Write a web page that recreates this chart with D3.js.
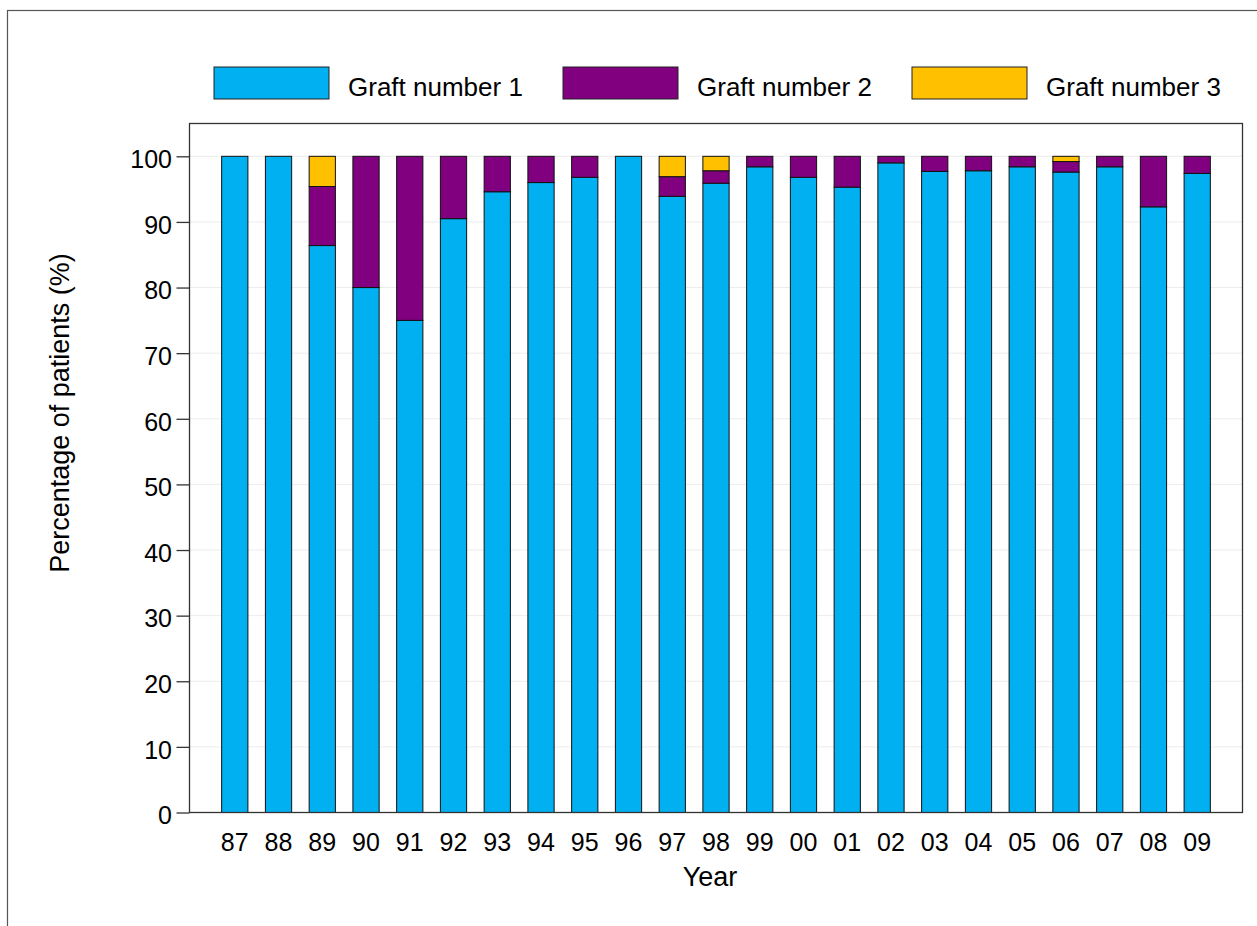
<!DOCTYPE html>
<html>
<head>
<meta charset="utf-8">
<script src="https://cdn.jsdelivr.net/npm/d3@7/dist/d3.min.js"></script>
<style>
  html, body { margin: 0; padding: 0; background: #fff; }
  svg { display: block; font-family: "Liberation Sans", Arial, sans-serif; }
</style>
</head>
<body>
<svg id="chart" width="1257" height="926"></svg>
<script>
const years = ["87","88","89","90","91","92","93","94","95","96","97","98","99","00","01","02","03","04","05","06","07","08","09"];
const graft1 = [100,100,86.4,80,75,90.5,94.6,96,96.8,100,93.9,95.9,98.4,96.8,95.3,99,97.7,97.8,98.4,97.6,98.4,92.3,97.4];
const graft2 = [0,0,9.0,20,25,9.5,5.4,4,3.2,0,3.0,1.9,1.6,3.2,4.7,1.0,2.3,2.2,1.6,1.6,1.6,7.7,2.6];
const graft3 = [0,0,4.6,0,0,0,0,0,0,0,3.1,2.2,0,0,0,0,0,0,0,0.8,0,0,0];
const seriesNames = ["Graft number 1","Graft number 2","Graft number 3"];
const seriesColors = ["#00B0F0","#800080","#FFC000"];
const yTicks = [0,10,20,30,40,50,60,70,80,90,100];

const svg = d3.select("#chart");
const L = 189.5, R = 1242.5, T = 123.5, B = 812.5;

// outer frame
svg.append("rect").attr("x",7.5).attr("y",10.5).attr("width",1400).attr("height",1100)
  .attr("fill","none").attr("stroke","#555").attr("stroke-width",1.2);

const rows = years.map((y,i)=>({year:y, s0:graft1[i], s1:graft2[i], s2:graft3[i]}));
const stack = d3.stack().keys(["s0","s1","s2"])(rows);

const x = d3.scaleBand().domain(years).range([L,R]).paddingInner(0.4).paddingOuter(0.735);
const y = d3.scaleLinear().domain([0,105]).range([B,T]);

// gridlines
svg.append("g").selectAll("line").data(yTicks).join("line")
  .attr("x1",L).attr("x2",R).attr("y1",d=>y(d)).attr("y2",d=>y(d))
  .attr("stroke","#ececec").attr("stroke-width",1);

// bars
stack.forEach((layer,k)=>{
  svg.append("g").selectAll("rect").data(layer.filter(d=>d[1]-d[0]>0)).join("rect")
    .attr("x",d=>x(d.data.year)).attr("width",x.bandwidth())
    .attr("y",d=>y(d[1])).attr("height",d=>y(d[0])-y(d[1]))
    .attr("fill",seriesColors[k]).attr("stroke","#111").attr("stroke-width",1);
});

// plot frame
svg.append("rect").attr("x",L).attr("y",T).attr("width",R-L).attr("height",B-T)
  .attr("fill","none").attr("stroke","#333").attr("stroke-width",1.3);

// y axis
const yAxis = svg.append("g").attr("transform",`translate(${L},0)`)
  .call(d3.axisLeft(y).tickValues(yTicks).tickSize(13).tickPadding(4.5).tickSizeOuter(0));
yAxis.select(".domain").remove();
yAxis.selectAll(".tick line").attr("stroke","#333").attr("stroke-width",1.3);
yAxis.selectAll(".tick text").attr("font-size",25).attr("fill","#000").attr("dy","0.45em")
  .attr("font-family","\"Liberation Sans\", Arial, sans-serif");

// x axis
const xAxis = svg.append("g").attr("transform",`translate(0,${B})`)
  .call(d3.axisBottom(x).tickSize(0).tickPadding(20.5));
xAxis.select(".domain").remove();
xAxis.selectAll(".tick text").attr("font-size",25).attr("fill","#000")
  .attr("font-family","\"Liberation Sans\", Arial, sans-serif");

// axis titles
svg.append("text").attr("x",710).attr("y",885.5).attr("text-anchor","middle")
  .attr("font-size",27).attr("fill","#000").text("Year");
svg.append("text").attr("transform","translate(68.5,413) rotate(-90)").attr("text-anchor","middle")
  .attr("font-size",27).attr("fill","#000").text("Percentage of patients (%)");

// legend
const lg = svg.append("g");
seriesNames.forEach((name,i)=>{
  const x0 = 214 + i*349;
  lg.append("rect").attr("x",x0).attr("y",67).attr("width",115).attr("height",32)
    .attr("fill",seriesColors[i]).attr("stroke","#222").attr("stroke-width",1);
  lg.append("text").attr("x",x0+134).attr("y",95.5).attr("font-size",26).attr("fill","#000").text(name);
});
</script>
</body>
</html>
